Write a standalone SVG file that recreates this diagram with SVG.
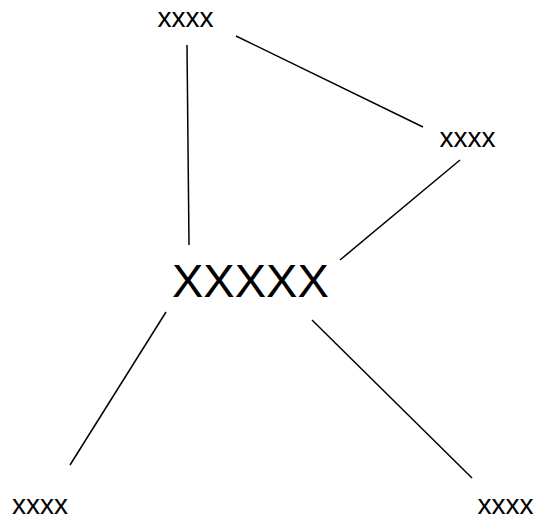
<svg xmlns="http://www.w3.org/2000/svg" width="543" height="520" viewBox="0 0 543 520">
<style>
text{font-family:"Liberation Sans",Arial,sans-serif;fill:#000}
.s{font-size:28px}
.b{font-size:47px}
.c line{stroke:#000;stroke-width:1.5}
</style>
<rect width="543" height="520" fill="#fff"/>
<g class="c" id="connectors">
<line x1="187" y1="45" x2="189" y2="245"/>
<line x1="236" y1="36" x2="423" y2="127"/>
<line x1="460" y1="160" x2="340" y2="260"/>
<line x1="166" y1="312" x2="70" y2="465"/>
<line x1="312" y1="320" x2="472" y2="478"/>
</g>
<g id="top"><text class="s" x="157.5" y="27">xxxx</text></g>
<g id="right"><text class="s" x="439.5" y="147">xxxx</text></g>
<g id="center"><text class="b" x="172" y="297">XXXXX</text></g>
<g id="bottomleft"><text class="s" x="12" y="514">xxxx</text></g>
<g id="bottomright"><text class="s" x="477.5" y="514">xxxx</text></g>
</svg>
